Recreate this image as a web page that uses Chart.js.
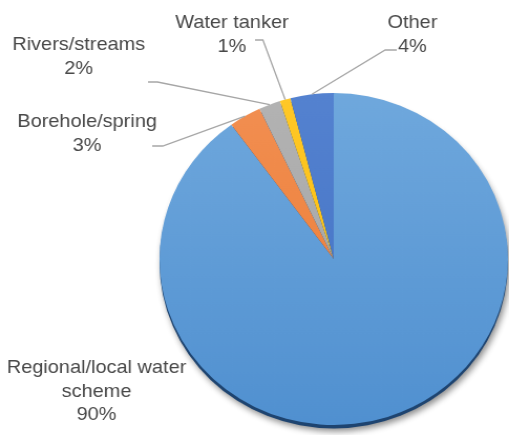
<!DOCTYPE html>
<html>
<head>
<meta charset="utf-8">
<script src="https://cdn.jsdelivr.net/npm/chart.js@4.4.0/dist/chart.umd.min.js"></script>
<style>
    html, body { margin: 0; padding: 0; background: #fff; overflow: hidden; }
    #wrap { width: 485px; height: 435px; transform: scaleX(1.0495); transform-origin: 0 0; }
</style>
</head>
<body>
<div id="wrap"><canvas id="pie" width="485" height="435"></canvas></div>
<script>
const categories = ['Regional/local water scheme', 'Borehole/spring', 'Rivers/streams', 'Water tanker', 'Other'];
const shares = [90, 3, 2, 1, 4];
const labelLines = [['Regional/local water', 'scheme'], ['Borehole/spring'], ['Rivers/streams'], ['Water tanker'], ['Other']];

// top / bottom colour of each slice's gradient
const sliceColors = [
    ['#6fa8dd', '#5090d0'],
    ['#f28f52', '#ea792f'],
    ['#b3b3b3', '#a0a0a0'],
    ['#ffc828', '#f8ba00'],
    ['#5482d0', '#4170c2']
];

// label block: centre x, first line y; leader: short horizontal run, then down to the slice
const labelPos = [[92, 368], [83, 122], [75, 45], [221, 23], [393, 23]];
const leaderRun = [null, [[145, 146], [155, 146]], [[141, 82], [150, 82]], [[243, 40], [250.5, 40]], [[378, 50], [367, 50]]];

const rimShadow = {
    id: 'rimShadow',
    beforeDatasetsDraw(chart) {
        const arc = chart.getDatasetMeta(0).data[0];
        const ctx = chart.ctx;
        ctx.save();
        ctx.shadowColor = 'rgba(0,0,0,0.45)';
        ctx.shadowBlur = 6;
        ctx.shadowOffsetX = 2;
        ctx.shadowOffsetY = 3;
        ctx.fillStyle = '#1e4470';
        ctx.beginPath();
        ctx.arc(arc.x, arc.y + 3.5, arc.outerRadius, 0, Math.PI * 2);
        ctx.fill();
        ctx.restore();
    }
};

const outsideLabels = {
    id: 'outsideLabels',
    afterDatasetsDraw(chart) {
        const ctx = chart.ctx;
        const arcs = chart.getDatasetMeta(0).data;
        ctx.save();
        ctx.strokeStyle = '#a6a6a6';
        ctx.lineWidth = 1.3;
        arcs.forEach((arc, i) => {
            if (!leaderRun[i]) return;
            const mid = (arc.startAngle + arc.endAngle) / 2;
            const px = arc.x + Math.cos(mid) * arc.outerRadius;
            const py = arc.y + Math.sin(mid) * arc.outerRadius;
            const [a, b] = leaderRun[i];
            ctx.beginPath();
            ctx.moveTo(a[0], a[1]);
            ctx.lineTo(b[0], b[1]);
            ctx.lineTo(px, py);
            ctx.stroke();
        });
        ctx.fillStyle = '#484848';
        ctx.font = '19px "Liberation Sans", Arial, sans-serif';
        ctx.textAlign = 'center';
        ctx.textBaseline = 'middle';
        labelLines.forEach((lines, i) => {
            const [x, y] = labelPos[i];
            lines.concat([shares[i] + '%']).forEach((t, k) => ctx.fillText(t, x, y + k * 23.5));
        });
        ctx.restore();
    }
};

new Chart(document.getElementById('pie'), {
    type: 'pie',
    data: {
        labels: categories,
        datasets: [{
            data: shares,
            backgroundColor: c => {
                const area = c.chart.chartArea;
                const [top, bottom] = sliceColors[c.dataIndex];
                if (!area) return top;
                const g = c.chart.ctx.createLinearGradient(0, area.top, 0, area.bottom);
                g.addColorStop(0, top);
                g.addColorStop(1, bottom);
                return g;
            },
            borderWidth: 0,
            hoverOffset: 0
        }]
    },
    options: {
        responsive: false,
        animation: false,
        events: [],
        layout: { padding: { left: 152, right: 1, top: 93, bottom: 10 } },
        plugins: { legend: { display: false }, tooltip: { enabled: false } }
    },
    plugins: [rimShadow, outsideLabels]
});
</script>
</body>
</html>
